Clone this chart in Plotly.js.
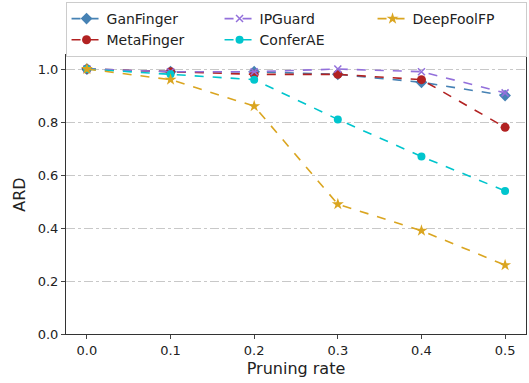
<!DOCTYPE html>
<html><head><meta charset="utf-8">
<script src="https://cdn.plot.ly/plotly-3.0.1.min.js"></script>
<style>html,body{margin:0;padding:0;background:#fff}#c{width:529px;height:383px}</style>
</head><body><div id="c"></div>
<script>
const pruningRate = [0.0, 0.1, 0.2, 0.3, 0.4, 0.5];
const ganFinger  = [1.00, 0.99, 0.99, 0.98, 0.95, 0.90];
const metaFinger = [1.00, 0.99, 0.98, 0.98, 0.96, 0.78];
const ipGuard    = [1.00, 0.99, 0.99, 1.00, 0.99, 0.91];
const conferAE   = [1.00, 0.98, 0.96, 0.81, 0.67, 0.54];
const deepFoolFP = [1.00, 0.96, 0.86, 0.49, 0.39, 0.26];

function tr(name, y, color, symbol, size, rank) {
  return {x: pruningRate, y: y, name: name, type: 'scatter', mode: 'lines+markers',
    line: {color: color, dash: 'dash', width: 1.6},
    marker: {color: color, symbol: symbol, size: size},
    legendrank: rank};
}
const data = [
  tr('GanFinger', ganFinger, '#4682b4', 'diamond', 9, 1),
  tr('MetaFinger', metaFinger, '#b22222', 'circle', 9, 4),
  tr('IPGuard', ipGuard, '#9370db', 'x-thin-open', 7, 2),
  tr('ConferAE', conferAE, '#00c5cd', 'circle', 8, 5),
  tr('DeepFoolFP', deepFoolFP, '#daa520', 'star', 9, 3)
];
data[2].marker.line = {color: '#9370db', width: 1.5};
const layout = {
  width: 529, height: 383,
  margin: {l: 66, r: 3, t: 55, b: 49, autoexpand: false},
  paper_bgcolor: '#fff', plot_bgcolor: '#fff',
  font: {family: 'DejaVu Sans', size: 13, color: '#222'},
  showlegend: true,
  legend: {orientation: 'h', x: -0.001, xanchor: 'left', y: 1.19, yanchor: 'top',
    entrywidth: 108, bordercolor: '#ccc', borderwidth: 1, bgcolor: '#fff',
    font: {size: 14}, traceorder: 'normal', tracegroupgap: 0},
  xaxis: {range: [-0.025, 0.525], tickvals: pruningRate, ticktext: pruningRate.map(v => v.toFixed(1)),
    ticks: 'outside', ticklen: 4, showgrid: false, zeroline: false,
    showline: true, mirror: true, linecolor: '#333', linewidth: 1,
    title: {text: 'Pruning rate', font: {size: 16}, standoff: 6}},
  yaxis: {range: [0, 1.053], tickvals: [0, 0.2, 0.4, 0.6, 0.8, 1.0], ticktext: ['0.0','0.2','0.4','0.6','0.8','1.0'],
    ticks: 'outside', ticklen: 4, showgrid: true, gridcolor: '#c8c8c8', griddash: 'dashdot', gridwidth: 1,
    zeroline: false, showline: true, mirror: true, linecolor: '#333', linewidth: 1,
    title: {text: 'ARD', font: {size: 16}, standoff: 8}}
};
Plotly.newPlot('c', data, layout, {displayModeBar: false, staticPlot: true});
</script></body></html>
